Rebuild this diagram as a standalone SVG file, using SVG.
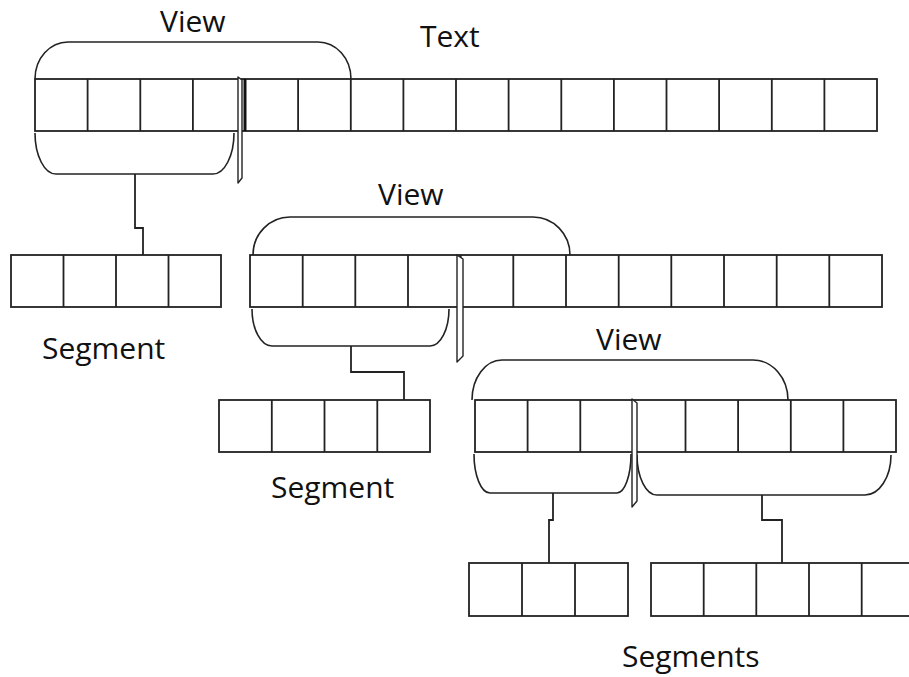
<svg xmlns="http://www.w3.org/2000/svg" width="909" height="677" viewBox="0 0 909 677">
<style>
.c{fill:none;stroke:#222;stroke-width:1.8}
.b{fill:none;stroke:#222;stroke-width:1.6}
.cur{fill:#fff;stroke:#222;stroke-width:1.4;stroke-linejoin:round}
.t{font-family:"Open Sans","Noto Sans",sans-serif;font-size:30px;fill:#111}
</style>
<rect width="909" height="677" fill="#fff"/>
<g id="text-row">
<rect class="c" x="35" y="79" width="842" height="52"/>
<path class="c" d="M87.6,79V131M140.3,79V131M192.9,79V131M298.1,79V131M350.8,79V131M403.4,79V131M456,79V131M508.6,79V131M561.3,79V131M613.9,79V131M666.5,79V131M719.1,79V131M771.8,79V131M824.4,79V131"/>
<path d="M245,79V131" stroke="#111" stroke-width="3"/>
<text class="t" x="420" y="47">Text</text>
</g>
<g id="view1">
<path class="b" d="M35,79 A33,37 0 0 1 68,42 L318,42 A33,37 0 0 1 351,79"/>
<path class="b" d="M35,133 A21,41 0 0 0 56,174 L213,174 A21,41 0 0 0 234,133"/>
<text class="t" x="160" y="32">View</text>
<polygon id="cursor1" class="cur" points="238,77 242,80 242,178 238,183"/>
</g>
<g id="segment1">
<rect class="c" x="11" y="255" width="210" height="52"/>
<path class="c" d="M63.5,255V307M116,255V307M168.5,255V307"/>
<text class="t" x="42" y="359">Segment</text>
</g>
<g id="view2-row">
<rect class="c" x="250" y="255" width="632" height="52"/>
<path class="c" d="M302.7,255V307M355.3,255V307M408,255V307M460.7,255V307M513.3,255V307M566,255V307M618.7,255V307M671.3,255V307M724,255V307M776.7,255V307M829.3,255V307"/>
</g>
<g id="view2">
<path class="b" d="M253,255 A37,38 0 0 1 290,217 L533,217 A37,38 0 0 1 570,255"/>
<path class="b" d="M252,309 A20,37 0 0 0 272,346 L430,346 A19,37 0 0 0 449,309"/>
<text class="t" x="378" y="205">View</text>
<polygon id="cursor2" class="cur" points="457,255 463,259 463,356 457,362"/>
</g>
<g id="segment2">
<rect class="c" x="219" y="400" width="211" height="52"/>
<path class="c" d="M271.8,400V452M324.5,400V452M377.3,400V452"/>
<text class="t" x="271" y="498">Segment</text>
</g>
<g id="view3-row">
<rect class="c" x="475" y="400" width="421" height="52"/>
<path class="c" d="M527.6,400V452M580.3,400V452M632.9,400V452M685.5,400V452M738.1,400V452M790.8,400V452M843.4,400V452"/>
</g>
<g id="view3">
<path class="b" d="M472,400 A30,40 0 0 1 502,360 L753,360 A35,40 0 0 1 788,400"/>
<path class="b" d="M474,454 A16,39 0 0 0 490,493 L617,493 A14,39 0 0 0 631,454"/>
<path class="b" d="M637,455 A20,40 0 0 0 657,495 L865,495 A26,40 0 0 0 891,455"/>
<text class="t" x="596" y="350">View</text>
<polygon id="cursor3" class="cur" points="632,399 637,403 637,501 632,507"/>
</g>
<g id="segment3">
<rect class="c" x="469" y="563" width="159" height="53"/>
<path class="c" d="M522,563V616M575,563V616"/>
</g>
<g id="segment4">
<rect class="c" x="651" y="563" width="263" height="53"/>
<path class="c" d="M703.7,563V616M756.3,563V616M809,563V616M861.7,563V616"/>
<text class="t" x="622" y="667">Segments</text>
</g>
<g id="connectors" class="c">
<path class="c" d="M135,174V228H143V255"/>
<path class="c" d="M351,346V372H404V400"/>
<path class="c" d="M553,493V520H549V563"/>
<path class="c" d="M762,495V520H782V563"/>
</g>
</svg>
